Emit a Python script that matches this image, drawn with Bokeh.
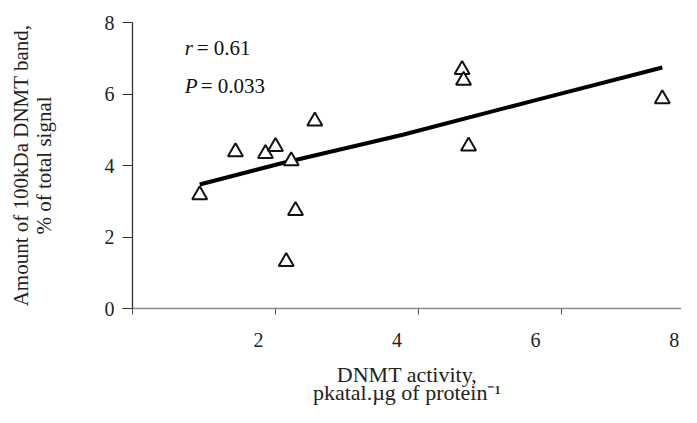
from bokeh.plotting import figure
from bokeh.models import Range1d, Label, FixedTicker, LinearAxis
from bokeh.embed import file_html
from bokeh.resources import INLINE

# ---- data ----
activity = [0.94, 1.44, 1.86, 2.00, 2.22, 2.28, 2.15, 2.55, 4.61, 4.63, 4.70, 7.41]
band = [3.18, 4.38, 4.33, 4.53, 4.13, 2.74, 1.31, 5.24, 6.68, 6.38, 4.54, 5.86]
fit_x = [0.94, 2.10, 3.78, 5.64, 7.41]
fit_y = [3.47, 4.07, 4.86, 5.83, 6.74]
x_ticks = [0, 2, 4, 6, 8]
x_tick_labels = ["2", "4", "6", "8"]
y_ticks = [0, 2, 4, 6, 8]
r_text = "= 0.61"
p_text = "= 0.033"

FONT = "Liberation Serif"
W, H = 681, 407
LEFT, TOP, BOTTOM = 132, 22, 97
px_per_unit = 71.5
x_end = (W - LEFT) / px_per_unit

p = figure(width=W, height=H, output_backend="svg", toolbar_location=None,
           x_range=Range1d(0, x_end), y_range=Range1d(0, 8),
           min_border_left=LEFT, min_border_right=0, min_border_top=TOP,
           min_border_bottom=BOTTOM)
p.outline_line_color = None
p.xgrid.visible = False
p.ygrid.visible = False
p.background_fill_color = "white"
p.border_fill_color = "white"

# main x axis: line and ticks only
p.xaxis.ticker = FixedTicker(ticks=x_ticks)
p.xaxis.major_label_text_font_size = "1px"
p.xaxis.major_label_text_alpha = 0
p.xaxis.major_label_standoff = 0
p.xaxis.major_tick_out = 6
p.xaxis.major_tick_in = 0
p.xaxis.minor_tick_line_color = None
p.xaxis.axis_line_color = "#8a8a8a"
p.xaxis.major_tick_line_color = "#555555"
p.xaxis.axis_line_width = 1.5

# tick labels, printed a little left of their ticks as in the reference
p.extra_x_ranges = {"labels": Range1d((LEFT - 119.3) / 69.3, (W - 119.3) / 69.3)}
lab_axis = LinearAxis(x_range_name="labels",
                      ticker=FixedTicker(ticks=[int(t) for t in x_tick_labels]))
lab_axis.axis_line_color = None
lab_axis.major_tick_line_color = None
lab_axis.minor_tick_line_color = None
lab_axis.major_label_text_font = FONT
lab_axis.major_label_text_font_size = "20px"
lab_axis.major_label_text_color = "#222222"
lab_axis.major_label_standoff = 12
lab_axis.axis_label = "DNMT activity,\npkatal.\u00b5g of protein\u207b\u00b9"
lab_axis.axis_label_text_font = FONT
lab_axis.axis_label_text_font_style = "normal"
lab_axis.axis_label_text_font_size = "22px"
lab_axis.axis_label_text_color = "#222222"
lab_axis.axis_label_text_line_height = 0.72
lab_axis.axis_label_standoff = 12
p.add_layout(lab_axis, "below")

# y axis
p.yaxis.ticker = FixedTicker(ticks=y_ticks)
p.yaxis.major_tick_out = 10
p.yaxis.major_tick_in = 0
p.yaxis.minor_tick_line_color = None
p.yaxis.axis_line_color = "#333333"
p.yaxis.major_tick_line_color = "#333333"
p.yaxis.axis_line_width = 1.3
p.yaxis.major_label_text_font = FONT
p.yaxis.major_label_text_font_size = "20px"
p.yaxis.major_label_text_color = "#222222"
p.yaxis.major_label_standoff = 8
p.yaxis.axis_label = "Amount of 100kDa DNMT band,\n% of total signal"
p.yaxis.axis_label_text_font = FONT
p.yaxis.axis_label_text_font_style = "normal"
p.yaxis.axis_label_text_font_size = "21px"
p.yaxis.axis_label_text_color = "#222222"
p.yaxis.axis_label_text_line_height = 0.95
p.yaxis.axis_label_standoff = 46

# regression line
p.line(fit_x, fit_y, line_color="black", line_width=4)

# points
p.scatter(activity, band, marker="triangle", size=15, fill_color="white",
          line_color="#111111", line_width=2)

# statistics
for letter, rest, yv, off in [("r", r_text, 7.28, 12), ("P", p_text, 6.22, 16)]:
    p.add_layout(Label(x=0.73, y=yv, text=letter, text_font=FONT,
                       text_font_style="italic", text_font_size="21px",
                       text_color="#111111", text_baseline="alphabetic"))
    p.add_layout(Label(x=0.73, y=yv, x_offset=off, text=rest, text_font=FONT,
                       text_font_size="21px", text_color="#111111",
                       text_baseline="alphabetic"))

open("out.html", "w").write(file_html(p, INLINE))
